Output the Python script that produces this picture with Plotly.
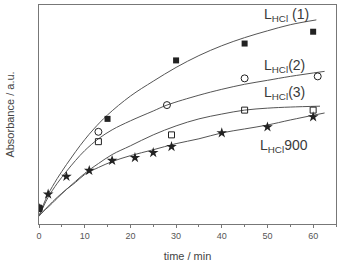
import plotly.graph_objects as go

# measured points (time / min, absorbance a.u.)
t1 = [0, 15, 30, 45, 60]
a1 = [0.072, 0.480, 0.747, 0.824, 0.878]
t2 = [0, 13, 28, 45, 61]
a2 = [0.072, 0.421, 0.543, 0.665, 0.674]
t3 = [0, 13, 29, 45, 60]
a3 = [0.072, 0.376, 0.407, 0.520, 0.520]
t4 = [0, 2, 6, 11, 16, 21, 25, 29, 40, 50, 60]
a4 = [0.072, 0.136, 0.217, 0.244, 0.290, 0.303, 0.326, 0.353, 0.416, 0.443, 0.489]

# fitted curves
ft1 = [0, 1, 2, 4, 6, 8, 10, 12, 15, 20, 25, 30, 35, 40, 45, 50, 55, 60.7]
fa1 = [0.036, 0.090, 0.136, 0.208, 0.271, 0.330, 0.385, 0.434, 0.498, 0.584, 0.652, 0.715, 0.769, 0.814, 0.851, 0.882, 0.910, 0.932]
ft2 = [0, 1, 2, 4, 6, 8, 10, 13, 16, 20, 25, 28, 35, 40, 45, 50, 55, 62.5]
fa2 = [0.036, 0.081, 0.122, 0.186, 0.240, 0.290, 0.335, 0.389, 0.430, 0.471, 0.516, 0.543, 0.588, 0.615, 0.638, 0.656, 0.674, 0.697]
ft3 = [0, 1, 2, 4, 6, 8, 10, 13, 16, 20, 25, 30, 35, 40, 45, 50, 55, 61.5]
fa3 = [0.036, 0.059, 0.077, 0.118, 0.158, 0.195, 0.231, 0.276, 0.317, 0.357, 0.407, 0.448, 0.480, 0.502, 0.520, 0.529, 0.534, 0.538]
ft4 = [0, 1, 2, 4, 6, 8, 10, 13, 16, 20, 25, 30, 35, 40, 45, 50, 55, 62.5]
fa4 = [0.036, 0.059, 0.081, 0.122, 0.158, 0.190, 0.226, 0.258, 0.285, 0.312, 0.339, 0.367, 0.389, 0.416, 0.434, 0.452, 0.475, 0.507]

labels = ["L<sub>HCl</sub> (1)", "L<sub>HCl</sub>(2)", "L<sub>HCl</sub>(3)", "L<sub>HCl</sub>900"]
label_pos = [(48.8, 0.955), (48.8, 0.723), (48.8, 0.596), (48.0, 0.355)]

xticks = [0, 10, 20, 30, 40, 50, 60]

fig = go.Figure()
line_col = "#555555"
mk_col = "#222222"
for ft, fa in [(ft1, fa1), (ft2, fa2), (ft3, fa3), (ft4, fa4)]:
    fig.add_trace(go.Scatter(x=ft, y=fa, mode="lines", line=dict(color=line_col, width=1, shape="spline"),
                             showlegend=False, hoverinfo="skip"))

fig.add_trace(go.Scatter(x=t2, y=a2, mode="markers", showlegend=False,
                         marker=dict(symbol="circle-open", size=7, color=mk_col, line=dict(width=1, color=mk_col))))
fig.add_trace(go.Scatter(x=t3, y=a3, mode="markers", showlegend=False,
                         marker=dict(symbol="square-open", size=6, color=mk_col, line=dict(width=1, color=mk_col))))
fig.add_trace(go.Scatter(x=t4, y=a4, mode="markers", showlegend=False,
                         marker=dict(symbol="star", size=8, color=mk_col, line=dict(width=0))))
fig.add_trace(go.Scatter(x=t1, y=a1, mode="markers", showlegend=False,
                         marker=dict(symbol="square", size=6, color=mk_col, line=dict(width=0))))

for txt, (x, y) in zip(labels, label_pos):
    fig.add_annotation(x=x, y=y, text=txt, showarrow=False, xanchor="left", yanchor="middle",
                       font=dict(size=14, color="#3a3a3a", family="Liberation Sans, Arial, sans-serif"))

fig.update_layout(
    width=338, height=262,
    margin=dict(l=39, r=1, t=5, b=36),
    paper_bgcolor="white", plot_bgcolor="white",
    font=dict(family="Liberation Sans, Arial, sans-serif", color="#555555"),
    xaxis=dict(range=[0, 65], tickvals=xticks, ticks="outside", ticklen=3, tickcolor="#777777",
               tickfont=dict(size=9, color="#555555"), showgrid=False, zeroline=False,
               showline=True, linecolor="#777777", linewidth=1, mirror=True,
               minor=dict(dtick=5, tick0=0, ticks="outside", ticklen=2, tickcolor="#777777"),
               title=dict(text="time / min", font=dict(size=11, color="#444444"), standoff=13)),
    yaxis=dict(range=[0, 1], showticklabels=False, ticks="", showgrid=False, zeroline=False,
               showline=True, linecolor="#777777", linewidth=1, mirror=True,
               title=dict(text="Absorbance / a.u.", font=dict(size=11, color="#444444"), standoff=21)),
)

fig.write_html("out.html")
